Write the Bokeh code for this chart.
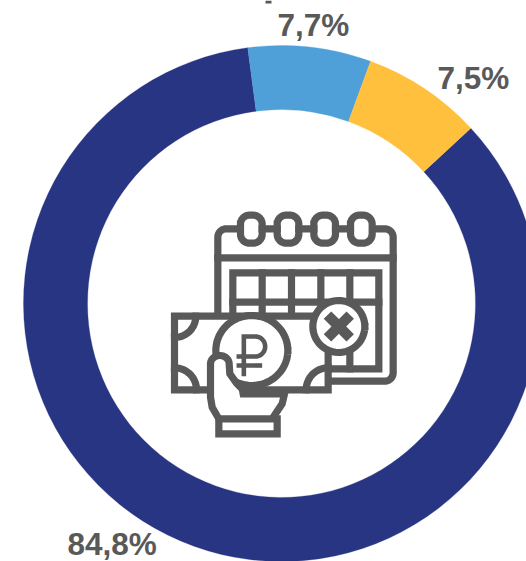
import numpy as np
from bokeh.plotting import figure
from bokeh.embed import file_html
from bokeh.resources import INLINE
from bokeh.core.properties import value

shares = [84.8, 7.7, 7.5]
labels = ["84,8%", "7,7%", "7,5%"]
colors = ["#283583", "#4F9FD8", "#FFC03D"]
label_x = [67, 277, 437]
label_mid = [543, 24, 77]
GREY = "#595959"
CX, CY, R_OUT, R_IN = 281, 303, 258, 194
START_DEG = 47.2

p = figure(width=526, height=561, x_range=(0, 526), y_range=(-561, 0),
           output_backend="svg", toolbar_location=None, min_border=0,
           outline_line_color=None, background_fill_color="white", border_fill_color="white")
p.axis.visible = False
p.grid.visible = False

# donut: clockwise from START_DEG (measured clockwise from 12 o'clock)
fr = np.array(shares) / sum(shares) * 2 * np.pi
edges = np.radians(90 - START_DEG) - np.concatenate([[0], np.cumsum(fr)])
p.annular_wedge(x=[CX] * 3, y=[-CY] * 3, inner_radius=R_IN, outer_radius=R_OUT,
                start_angle=edges[:-1], end_angle=edges[1:], direction="clock",
                fill_color=colors, line_color=colors, line_width=0.3)

p.text(x=label_x, y=[-m for m in label_mid], text=labels, text_font=value("Liberation Sans"),
       text_font_style="bold", text_font_size="31.5px", text_color=GREY,
       text_baseline="middle", text_align="left")

# sliver of a clipped-off title at the very top of the crop
p.quad(left=[265], right=[271], top=[0], bottom=[-3], fill_color=GREY, line_color=None)

# ---- icon, traced in a 3x crop whose origin is at (160, 200) ----
def X(a): return [160 + v / 3 for v in a]
def Y(a): return [-(200 + v / 3) for v in a]

def arc(cx, cy, rx, ry, a0, a1, n=24):
    t = np.radians(np.linspace(a0, a1, n))
    return list(zip(cx + rx * np.cos(t), cy + ry * np.sin(t)))

def rrect(x0, y0, x1, y1, r):
    return (arc(x0 + r, y0 + r, r, r, 180, 270) + arc(x1 - r, y0 + r, r, r, 270, 360)
            + arc(x1 - r, y1 - r, r, r, 0, 90) + arc(x0 + r, y1 - r, r, r, 90, 180)
            + [(x0, y0 + r)])

def stroke(pts, w=7.2, fill=None):
    xs, ys = X([q[0] for q in pts]), Y([q[1] for q in pts])
    if fill:
        p.patch(xs, ys, fill_color=fill, line_color=None)
    p.line(xs, ys, line_color=GREY, line_width=w, line_cap="square", line_join="miter")

# calendar body
stroke([(172, 345)] + arc(197, 110, 25, 25, 180, 270) + [(235, 85)])
stroke([(640, 85)] + arc(673, 110, 25, 25, 270, 360) + arc(673, 517, 25, 25, 0, 90) + [(505, 542)])
stroke([(172, 172), (698, 172)])
# rings
for rx in (240, 350, 460, 570):
    stroke(rrect(rx, 44, rx + 65, 128, 27), fill="white")
for a, b in ((305, 350), (415, 460), (525, 570)):
    stroke([(a, 85), (b, 85)])
# date grid
stroke([(217, 345), (217, 217), (655, 217), (655, 505), (505, 505)])
stroke([(217, 305), (655, 305)])
for vx in (305, 393, 481):
    stroke([(vx, 217), (vx, 345)])
stroke([(568, 217), (568, 305)])
stroke([(568, 450), (568, 505)])
# banknote
stroke([(42, 347), (503, 347), (503, 568), (42, 568), (42, 347)], fill="white")
stroke(arc(42, 347, 64, 64, 90, 0))
stroke(arc(42, 568, 66, 66, -90, 0))
stroke(arc(503, 568, 66, 66, 270, 180))
# cancel badge
stroke(arc(535, 378, 78, 78, 0, 360, 60), fill="white")
stroke([(512, 355), (558, 401)], w=10.5)
stroke([(558, 355), (512, 401)], w=10.5)
# rouble coin
stroke(arc(274, 450, 108, 105, 0, 360, 80), fill="white")
stroke([(250, 520), (250, 408), (285, 408)] + arc(285, 438, 29, 30, -90, 90) + [(235, 468)], w=4.6)
stroke([(235, 495), (298, 495)], w=4.6)
# hand and cuff
hand = ([(175, 655), (155, 620), (150, 590), (150, 490)] + arc(178, 490, 28, 25, 180, 360)[:-1]
        + [(208, 520), (228, 548), (245, 565), (248, 580), (372, 580), (365, 610), (335, 655)])
stroke(hand, fill="white")
stroke([(175, 655), (350, 655), (350, 700), (175, 700), (175, 655)], fill="white")

open("out.html", "w").write(file_html(p, INLINE))
